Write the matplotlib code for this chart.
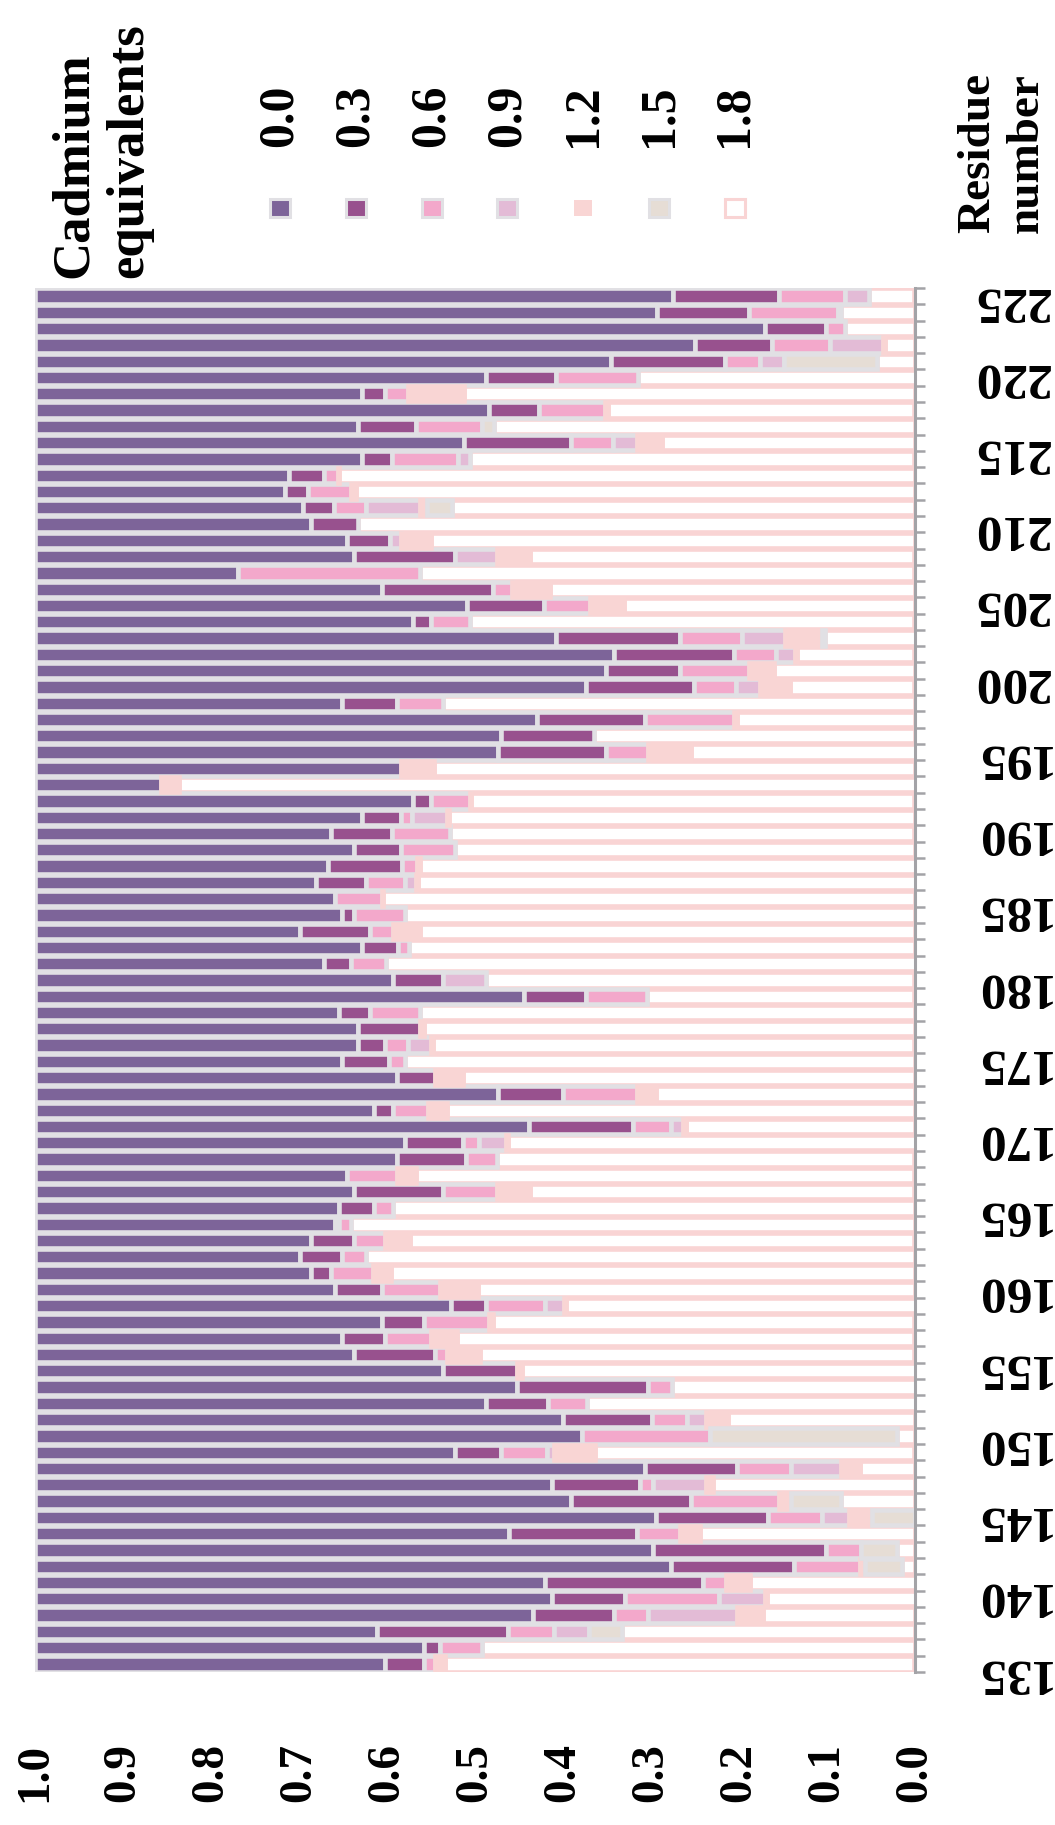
import numpy as np
import matplotlib
matplotlib.use('Agg')
import matplotlib.pyplot as plt
from matplotlib.patches import Rectangle

plt.rcParams['font.family'] = ['Liberation Serif', 'DejaVu Serif']
plt.rcParams['font.weight'] = 'bold'

# fraction of each residue's peak in each titration state,
# rows listed from the top of the chart (residue 225) down to 135
equivalents = ['0.0', '0.3', '0.6', '0.9', '1.2', '1.5', '1.8']

eq_00 = [0.725, 0.707, 0.830, 0.750, 0.654, 0.513, 0.372, 0.516, 0.367, 0.487,
         0.372, 0.289, 0.284, 0.305, 0.314, 0.354, 0.363, 0.231, 0.394, 0.491,
         0.429, 0.592, 0.658, 0.649, 0.626, 0.349, 0.570, 0.530, 0.526, 0.416,
         0.143, 0.429, 0.372, 0.336, 0.363, 0.333, 0.319, 0.341, 0.349, 0.301,
         0.372, 0.328, 0.407, 0.556, 0.346, 0.367, 0.367, 0.349, 0.411, 0.526,
         0.385, 0.561, 0.420, 0.411, 0.354, 0.363, 0.346, 0.341, 0.314, 0.301,
         0.314, 0.341, 0.473, 0.394, 0.349, 0.363, 0.464, 0.548, 0.513, 0.600,
         0.622, 0.477, 0.693, 0.588, 0.609, 0.706, 0.539, 0.702, 0.723, 0.579,
         0.588, 0.566, 0.389, 0.442, 0.398]
eq_03 = [0.121, 0.104, 0.069, 0.087, 0.130, 0.079, 0.026, 0.057, 0.066, 0.122,
         0.034, 0.039, 0.026, 0.035, 0.053, 0.049, 0.114, 0.000, 0.127, 0.087,
         0.021, 0.141, 0.136, 0.084, 0.123, 0.062, 0.123, 0.105, 0.123, 0.000,
         0.000, 0.021, 0.044, 0.070, 0.053, 0.084, 0.057, 0.000, 0.014, 0.080,
         0.040, 0.031, 0.057, 0.070, 0.035, 0.070, 0.031, 0.053, 0.044, 0.074,
         0.022, 0.118, 0.066, 0.079, 0.000, 0.101, 0.039, 0.005, 0.049, 0.048,
         0.022, 0.053, 0.040, 0.048, 0.049, 0.092, 0.084, 0.149, 0.070, 0.101,
         0.000, 0.053, 0.105, 0.100, 0.136, 0.127, 0.145, 0.197, 0.140, 0.180,
         0.083, 0.092, 0.149, 0.018, 0.044]
eq_06 = [0.074, 0.101, 0.021, 0.066, 0.040, 0.093, 0.026, 0.075, 0.075, 0.048,
         0.075, 0.016, 0.049, 0.036, 0.000, 0.000, 0.000, 0.206, 0.021, 0.053,
         0.044, 0.070, 0.048, 0.078, 0.048, 0.053, 0.101, 0.000, 0.048, 0.000,
         0.000, 0.044, 0.012, 0.066, 0.061, 0.017, 0.044, 0.053, 0.057, 0.026,
         0.013, 0.040, 0.000, 0.070, 0.057, 0.000, 0.026, 0.018, 0.000, 0.084,
         0.040, 0.044, 0.018, 0.035, 0.057, 0.061, 0.022, 0.013, 0.035, 0.027,
         0.048, 0.066, 0.066, 0.074, 0.052, 0.013, 0.000, 0.027, 0.044, 0.040,
         0.145, 0.052, 0.061, 0.014, 0.101, 0.061, 0.049, 0.040, 0.075, 0.026,
         0.106, 0.039, 0.052, 0.048, 0.013]
eq_09 = [0.028, 0.004, 0.000, 0.061, 0.027, 0.000, 0.000, 0.000, 0.000, 0.027,
         0.013, 0.000, 0.000, 0.061, 0.000, 0.013, 0.048, 0.000, 0.000, 0.000,
         0.000, 0.049, 0.022, 0.000, 0.027, 0.000, 0.000, 0.000, 0.000, 0.000,
         0.000, 0.000, 0.040, 0.000, 0.000, 0.000, 0.013, 0.000, 0.000, 0.000,
         0.000, 0.000, 0.048, 0.000, 0.000, 0.000, 0.026, 0.000, 0.000, 0.000,
         0.000, 0.013, 0.031, 0.000, 0.000, 0.000, 0.000, 0.000, 0.000, 0.000,
         0.000, 0.000, 0.022, 0.000, 0.000, 0.000, 0.000, 0.000, 0.000, 0.022,
         0.000, 0.008, 0.057, 0.061, 0.000, 0.031, 0.000, 0.000, 0.000, 0.000,
         0.053, 0.101, 0.040, 0.000, 0.000]
eq_12 = [0.000, 0.000, 0.000, 0.002, 0.000, 0.000, 0.064, 0.003, 0.000, 0.029,
         0.000, 0.002, 0.006, 0.009, 0.000, 0.034, 0.038, 0.000, 0.043, 0.038,
         0.000, 0.042, 0.002, 0.029, 0.034, 0.000, 0.004, 0.000, 0.048, 0.037,
         0.021, 0.002, 0.002, 0.000, 0.000, 0.003, 0.002, 0.002, 0.000, 0.031,
         0.000, 0.000, 0.000, 0.000, 0.000, 0.005, 0.002, 0.000, 0.031, 0.022,
         0.021, 0.004, 0.002, 0.000, 0.022, 0.038, 0.000, 0.000, 0.028, 0.000,
         0.021, 0.043, 0.002, 0.005, 0.029, 0.038, 0.005, 0.000, 0.000, 0.025,
         0.000, 0.046, 0.021, 0.008, 0.013, 0.026, 0.023, 0.000, 0.005, 0.027,
         0.002, 0.029, 0.000, 0.000, 0.011]
eq_15 = [0.000, 0.000, 0.000, 0.000, 0.106, 0.000, 0.000, 0.000, 0.014, 0.000,
         0.000, 0.000, 0.000, 0.028, 0.000, 0.000, 0.000, 0.000, 0.000, 0.000,
         0.000, 0.004, 0.000, 0.000, 0.000, 0.000, 0.000, 0.000, 0.000, 0.000,
         0.000, 0.000, 0.000, 0.000, 0.000, 0.000, 0.000, 0.000, 0.000, 0.000,
         0.000, 0.000, 0.000, 0.000, 0.000, 0.000, 0.000, 0.000, 0.000, 0.000,
         0.000, 0.000, 0.000, 0.000, 0.000, 0.000, 0.000, 0.000, 0.000, 0.000,
         0.000, 0.000, 0.000, 0.000, 0.000, 0.000, 0.000, 0.000, 0.000, 0.000,
         0.213, 0.000, 0.000, 0.000, 0.057, 0.049, 0.000, 0.040, 0.042, 0.000,
         0.000, 0.000, 0.037, 0.000, 0.000]
eq_18 = [0.051, 0.084, 0.080, 0.034, 0.043, 0.316, 0.512, 0.348, 0.478, 0.287,
         0.505, 0.654, 0.635, 0.526, 0.633, 0.550, 0.436, 0.562, 0.415, 0.331,
         0.505, 0.103, 0.133, 0.160, 0.141, 0.536, 0.202, 0.365, 0.256, 0.547,
         0.837, 0.503, 0.530, 0.527, 0.523, 0.564, 0.566, 0.604, 0.580, 0.562,
         0.575, 0.602, 0.487, 0.303, 0.562, 0.558, 0.547, 0.580, 0.514, 0.294,
         0.532, 0.260, 0.464, 0.474, 0.566, 0.436, 0.593, 0.641, 0.573, 0.624,
         0.595, 0.497, 0.398, 0.478, 0.520, 0.493, 0.448, 0.277, 0.374, 0.212,
         0.020, 0.363, 0.063, 0.229, 0.084, 0.000, 0.244, 0.021, 0.015, 0.189,
         0.169, 0.173, 0.333, 0.492, 0.533]

residue_ticks = list(range(135, 226, 5))

colors = ['#7d6499', '#98518e', '#f3a8cb', '#e3bbd6', '#f9d5d4', '#e6ddd5', 'white']
edges = ['#e1e0e4', '#e1e0e4', '#e1e0e4', '#e1e0e4', '#f9d5d4', '#e1e0e4', '#f9d4d4']
axis_grey = '#a3a3a7'

W, H = 1055, 1825
fig = plt.figure(figsize=(W / 100, H / 100), dpi=100)
ax = fig.add_axes([35 / W, 1 - 1672 / H, 880 / W, (1672 - 288) / H])

series = np.array([eq_00, eq_03, eq_06, eq_09, eq_12, eq_15, eq_18])
n = series.shape[1]
rows = np.arange(n)
cum = np.cumsum(series, axis=0)

for k in range(len(equivalents)):
    w = series[k]
    keep = w > 0
    ax.barh(rows[keep], w[keep], left=1 - cum[k][keep], height=0.94,
            color=colors[k], edgecolor=edges[k], linewidth=3.3,
            zorder=1 if k == 6 else 2)

ax.set_xlim(1.0, 0.0)
ax.set_ylim(n - 0.5, -0.5)

ax.set_xticks(np.arange(0, 1.01, 0.1))
ax.set_xticklabels(['%.1f' % v for v in np.arange(0, 1.01, 0.1)],
                   rotation=90, fontsize=34, fontweight='bold')
ax.tick_params(axis='x', length=0, pad=51)

# residue numbers run on their own linear scale beside the rows
ax2 = ax.twinx()
ax2.set_ylim(135.51, 225.79)
ax2.set_yticks(residue_ticks)
ax2.set_yticklabels([str(r) for r in residue_ticks], rotation=180,
                    fontsize=37, fontweight='bold')
for lab in ax2.get_yticklabels():
    lab.set_va('center')
ax2.tick_params(axis='y', length=0, pad=41)
for s in ax2.spines.values():
    s.set_visible(False)

# row ticks between the bars, on the right edge only
ax.yaxis.tick_right()
ax.set_yticks(np.arange(-0.5, n, 1.0))
ax.set_yticklabels([])
ax.tick_params(axis='y', left=False, right=True, length=7, width=1.8,
               color=axis_grey, direction='out')
for s in ['left', 'top', 'bottom']:
    ax.spines[s].set_visible(False)
ax.spines['right'].set_visible(True)
ax.spines['right'].set_color(axis_grey)
ax.spines['right'].set_linewidth(2.2)
ax.spines['right'].set_zorder(5)

fig.text(50 / W, 1 - 278 / H, 'Cadmium\nequivalents', rotation=90,
         ha='left', va='bottom', multialignment='left', fontsize=38)
fig.text(957 / W, 1 - 233 / H, 'Residue\nnumber', rotation=90,
         ha='left', va='bottom', multialignment='left', fontsize=34)

# legend: labels stand above small square swatches
for i, lab in enumerate(equivalents):
    xc = (280 + 75.8 * i) / W
    fig.text(xc, 1 - 147 / H, lab, rotation=90, ha='center', va='bottom',
             fontsize=36)
    if i == 4:
        sw = Rectangle((xc - 9 / W, 1 - 216 / H), 18 / W, 16 / H,
                       transform=fig.transFigure, facecolor=colors[i],
                       linewidth=0)
    else:
        ec = '#f9d4d4' if i == 6 else '#e1e0e4'
        sw = Rectangle((xc - 10 / W, 1 - 217 / H), 20 / W, 18 / H,
                       transform=fig.transFigure, facecolor=colors[i],
                       edgecolor=ec, linewidth=2.2)
    fig.patches.append(sw)

fig.savefig('out.png', dpi=100)
